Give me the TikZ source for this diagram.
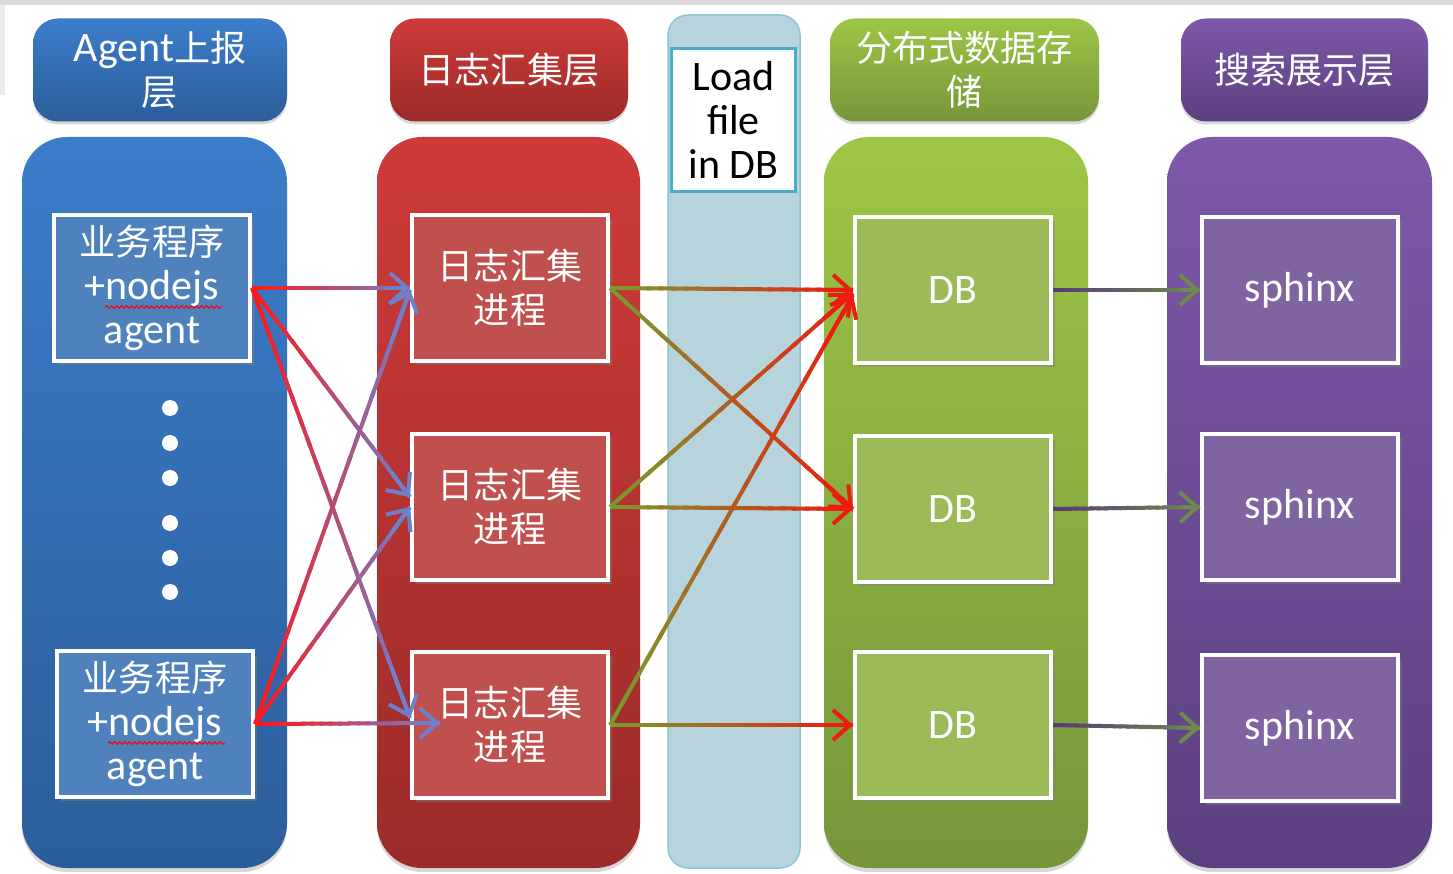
\documentclass[tikz,border=0pt]{standalone}
\usepackage{fontspec}
\setmainfont{Carlito}
\newfontfamily\cjk[Scale=0.86]{Noto Sans CJK SC}
\usetikzlibrary{calc,arrows.meta,shadows,decorations.pathmorphing}

\definecolor{bluetop}{HTML}{3C7DCA}
\definecolor{bluebot}{HTML}{2C5D9B}
\definecolor{bluein}{HTML}{4F81BD}
\definecolor{redtop}{HTML}{CE3B39}
\definecolor{redbot}{HTML}{9B2B29}
\definecolor{redin}{HTML}{C0504D}
\definecolor{greentop}{HTML}{9DC646}
\definecolor{greenbot}{HTML}{76963A}
\definecolor{greenin}{HTML}{9BBB59}
\definecolor{purptop}{HTML}{7E58A9}
\definecolor{purpbot}{HTML}{5C4080}
\definecolor{purpin}{HTML}{8064A2}
\definecolor{loadcol}{HTML}{B7D3DB}
\definecolor{loadedge}{HTML}{8EC5D6}
\definecolor{loadbox}{HTML}{4BACC6}
\definecolor{arred}{HTML}{FF1818}
\definecolor{arblue}{HTML}{6F80CB}
\definecolor{arolive}{HTML}{7A9A30}
\definecolor{arred2}{HTML}{EC1C10}
\definecolor{arpurp}{HTML}{583C78}
\definecolor{argreen}{HTML}{6E8A4C}

\tikzset{
  base/.style={font=\fontsize{42}{44}\selectfont, align=center, inner sep=0pt, text=white},
  header/.style={base, rounded corners=25pt, minimum height=103pt,
    drop shadow={shadow xshift=0pt, shadow yshift=-3pt, opacity=0.3}},
  colbody/.style={rounded corners=45pt, minimum height=731pt, inner sep=0pt,
    drop shadow={shadow xshift=0pt, shadow yshift=-4pt, opacity=0.3}},
  inbox/.style={base, draw=white, line width=4pt, minimum width=196pt, minimum height=146pt,
    drop shadow={shadow xshift=4pt, shadow yshift=-4pt, opacity=0.45}},
  conn/.style={line width=4pt},
  wavy/.style={draw=red, line width=1pt, decorate,
    decoration={snake, amplitude=1.3pt, segment length=5pt}}
}

\newcommand\gline[4]{%
  \foreach \k in {0,...,19}{%
    \pgfmathsetmacro\ta{\k/20}%
    \pgfmathsetmacro\tb{min(1,(\k+1.4)/20)}%
    \pgfmathtruncatemacro\pc{100*\k/19}%
    \draw[conn, draw=#4!\pc!#3] ($(#1)!\ta!(#2)$) -- ($(#1)!\tb!(#2)$);
  }%
  \draw[conn, draw=#4, -{Straight Barb[length=17pt,width=30pt]}] ($(#1)!0.88!(#2)$) -- (#2);
}

\begin{document}
\begin{tikzpicture}[x=1pt, y=-1pt]
\useasboundingbox (0,0) rectangle (1453,874);
\fill[white] (0,0) rectangle (1453,874);
\fill[gray!28] (0,0) rectangle (1453,5);
\fill[gray!15] (0,5) rectangle (5,95);

% column bodies
\node[colbody, minimum width=265pt, top color=bluetop, bottom color=bluebot] (cb1) at (154.5,502.5) {};
\node[colbody, minimum width=263pt, top color=redtop, bottom color=redbot] (cb2) at (508.5,502.5) {};
\node[draw=loadedge, line width=1.5pt, fill=loadcol, rounded corners=20pt, minimum width=132pt, minimum height=853pt, inner sep=0pt] (cb3) at (734,441.5) {};
\node[colbody, minimum width=264pt, top color=greentop, bottom color=greenbot] (cb4) at (956,502.5) {};
\node[colbody, minimum width=265pt, top color=purptop, bottom color=purpbot] (cb5) at (1299.5,502.5) {};

% headers
\node[header, minimum width=254pt, top color=bluetop, bottom color=bluebot] (h1) at (160,70) {Agent{\cjk 上报}\\{\cjk 层}};
\node[header, minimum width=238pt, top color=redtop, bottom color=redbot] (h2) at (509,70) {\cjk 日志汇集层};
\node[base, text=black, fill=white, draw=loadbox, line width=3pt, minimum width=124pt, minimum height=143pt] (h3) at (733.5,120) {Load\\file\\in DB};
\node[header, minimum width=269pt, top color=greentop, bottom color=greenbot] (h4) at (964.5,70) {{\cjk 分布式数据存}\\{\cjk 储}};
\node[header, minimum width=247pt, top color=purptop, bottom color=purpbot] (h5) at (1304.5,70) {\cjk 搜索展示层};

% inner boxes
\node[inbox, fill=bluein] (a1) at (152,288) {\raisebox{-4pt}{\cjk 业务程序}\\\raisebox{-4pt}{+nodejs}\\\raisebox{-4pt}{agent}};
\node[inbox, fill=bluein] (a2) at (155,724) {\raisebox{-4pt}{\cjk 业务程序}\\\raisebox{-4pt}{+nodejs}\\\raisebox{-4pt}{agent}};
\node[inbox, fill=redin] (l1) at (510,288) {{\cjk 日志汇集}\\{\cjk 进程}};
\node[inbox, fill=redin] (l2) at (510,507) {{\cjk 日志汇集}\\{\cjk 进程}};
\node[inbox, fill=redin] (l3) at (510,725) {{\cjk 日志汇集}\\{\cjk 进程}};
\node[inbox, fill=greenin] (d1) at (953,290) {DB};
\node[inbox, fill=greenin] (d2) at (953,509) {DB};
\node[inbox, fill=greenin] (d3) at (953,725) {DB};
\node[inbox, fill=purpin] (s1) at (1300,290) {sphinx};
\node[inbox, fill=purpin] (s2) at (1300,507) {sphinx};
\node[inbox, fill=purpin] (s3) at (1300,728) {sphinx};

% spell-check underline
\draw[wavy] ($(a1.center)+(-47,19)$) -- ($(a1.center)+(70,19)$);
\draw[wavy] ($(a2.center)+(-47,19)$) -- ($(a2.center)+(70,19)$);

% dots
\foreach \yy in {408,443,478,523,558,592} \fill[white] (170,\yy) circle (8);

% helper end points
\coordinate (t12) at ($(l2.west)+(0,-10)$);
\coordinate (t13) at ($(l3.west)+(0,-7)$);
\coordinate (t21) at ($(l1.west)+(0,2)$);
\coordinate (t23) at ($(l3.west)+(30,-2)$);
\coordinate (u21) at ($(d1.west)+(0,3)$);
\coordinate (u31) at ($(d1.west)+(0,5)$);

% agent -> log
\gline{a1.east}{l1.west}{arred}{arblue}
\gline{a1.east}{t12}{arred}{arblue}
\gline{a1.east}{t13}{arred}{arblue}
\gline{a2.east}{t21}{arred}{arblue}
\gline{a2.east}{l2.west}{arred}{arblue}
\gline{a2.east}{t23}{arred}{arblue}

% log -> db
\gline{l1.east}{d1.west}{arolive}{arred2}
\gline{l1.east}{d2.west}{arolive}{arred2}
\gline{l2.east}{u21}{arolive}{arred2}
\gline{l2.east}{d2.west}{arolive}{arred2}
\gline{l3.east}{u31}{arolive}{arred2}
\gline{l3.east}{d3.west}{arolive}{arred2}

% db -> sphinx
\gline{d1.east}{s1.west}{arpurp}{argreen}
\gline{d2.east}{s2.west}{arpurp}{argreen}
\gline{d3.east}{s3.west}{arpurp}{argreen}
\end{tikzpicture}
\end{document}
